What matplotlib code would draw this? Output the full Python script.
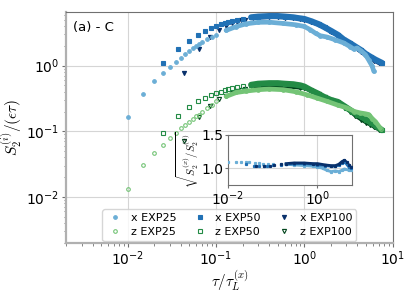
import numpy as np
import matplotlib
matplotlib.use("Agg")
import matplotlib.pyplot as plt

plt.rcParams["mathtext.fontset"] = "cm"

# x-component, EXP25 / EXP50 / EXP100
tau_x25 = [0.01, 0.015, 0.02, 0.025, 0.03, 0.035, 0.04, 0.045, 0.05, 0.055, 0.06,
           0.065, 0.07, 0.08, 0.09, 0.1, 0.13, 0.17, 0.22, 0.3, 0.4, 0.58, 0.8,
           1.0, 1.17, 1.35, 1.52, 1.81, 2.2, 2.8, 3.3, 3.63, 3.97, 4.4, 4.93,
           5.4, 5.88, 6.13]
s_x25 = [0.166, 0.371, 0.577, 0.76, 0.955, 1.14, 1.29, 1.48, 1.67, 1.83, 2.02,
         2.15, 2.3, 2.55, 2.78, 2.96, 3.45, 3.95, 4.35, 4.58, 4.6, 4.4, 4.2,
         3.96, 3.53, 3.1, 2.86, 2.73, 2.5, 2.22, 1.95, 1.79, 1.86, 1.68, 1.47,
         1.2, 0.98, 0.82]

tau_x50 = [0.025, 0.0375, 0.05, 0.0625, 0.075, 0.0875, 0.1, 0.1125, 0.125, 0.1375,
           0.15, 0.175, 0.2, 0.25, 0.3, 0.4, 0.5, 0.6, 0.75, 0.9, 1.0, 1.2, 1.45,
           1.7, 2.0, 2.4, 2.8, 3.3, 3.8, 4.4, 5.0, 5.7, 6.5, 7.6]
s_x50 = [1.10, 1.77, 2.38, 2.96, 3.37, 3.70, 4.06, 4.3, 4.45, 4.6,
         4.75, 5.0, 5.2, 5.45, 5.6, 5.7, 5.7, 5.6, 5.45, 5.25, 5.15, 4.75, 4.3,
         3.85, 3.4, 2.95, 2.5, 2.2, 1.95, 1.72, 1.5, 1.35, 1.22, 1.1]

tau_x100 = [0.043, 0.0645, 0.086, 0.1075, 0.129, 0.15, 0.172, 0.194, 0.215, 0.26,
            0.3, 0.4, 0.5, 0.6, 0.75, 0.9, 1.0, 1.2, 1.45, 1.7, 2.0, 2.4, 2.8,
            3.3, 3.8, 4.4, 5.0, 5.6, 6.2, 7.0]
s_x100 = [0.774, 1.79, 2.7, 3.55, 4.0, 4.4, 4.7, 4.9, 5.05, 5.25,
          5.35, 5.45, 5.45, 5.4, 5.3, 5.1, 5.0, 4.6, 4.15, 3.75, 3.3, 2.85, 2.45,
          2.1, 1.85, 1.6, 1.42, 1.28, 1.18, 1.08]

# z-component
tau_z25 = [0.01, 0.015, 0.02, 0.025, 0.03, 0.035, 0.04, 0.045, 0.05, 0.055, 0.06,
           0.065, 0.07, 0.08, 0.09, 0.1, 0.13, 0.17, 0.22, 0.3, 0.4, 0.58, 0.8,
           1.07, 1.4, 1.81, 2.4, 3.06, 3.7, 4.33, 4.9, 5.37, 5.9, 6.4, 7.3]
s_z25 = [0.0134, 0.0304, 0.0469, 0.0628, 0.0802, 0.0946, 0.111, 0.126, 0.1405, 0.1545, 0.169,
         0.18, 0.195, 0.225, 0.255, 0.285, 0.34, 0.39, 0.41, 0.43, 0.44, 0.43, 0.4,
         0.36, 0.32, 0.286, 0.25, 0.227, 0.2, 0.19, 0.185, 0.18, 0.155, 0.14, 0.11]

tau_z50 = [0.025, 0.0375, 0.05, 0.0625, 0.075, 0.0875, 0.1, 0.1125, 0.125, 0.1375,
           0.15, 0.175, 0.2, 0.25, 0.3, 0.4, 0.5, 0.6, 0.75, 0.9, 1.0, 1.2, 1.4,
           1.7, 2.0, 2.4, 3.0, 3.5, 4.0, 4.5, 5.0, 5.7, 6.5, 7.6]
s_z50 = [0.0946, 0.169, 0.232, 0.293, 0.32, 0.353, 0.38, 0.40, 0.42, 0.44,
         0.455, 0.47, 0.49, 0.51, 0.53, 0.54, 0.54, 0.53, 0.52, 0.5, 0.48, 0.42, 0.38,
         0.33, 0.3, 0.28, 0.23, 0.2, 0.18, 0.165, 0.15, 0.135, 0.12, 0.104]

tau_z100 = [0.043, 0.0645, 0.086, 0.1075, 0.129, 0.15, 0.172, 0.194, 0.215, 0.26,
            0.3, 0.4, 0.5, 0.6, 0.75, 0.9, 1.0, 1.2, 1.45, 1.7, 2.0, 2.4, 2.8,
            3.3, 3.8, 4.4, 5.0, 5.6, 6.2, 7.0]
s_z100 = [0.0705, 0.163, 0.24, 0.31, 0.35, 0.38, 0.41, 0.43, 0.44, 0.46,
          0.47, 0.48, 0.48, 0.475, 0.47, 0.455, 0.45, 0.41, 0.37, 0.33, 0.3, 0.265, 0.235,
          0.2, 0.17, 0.15, 0.135, 0.125, 0.115, 0.105]

# inset: sqrt(S2x / S2z)
tau_r25 = [0.01, 0.015, 0.02, 0.025, 0.03, 0.04, 0.05, 0.06, 0.08, 0.1, 0.15, 0.2,
           0.3, 0.5, 0.8, 1.0, 1.3, 1.6, 2.0, 2.5, 3.0, 3.5, 4.0, 5.0, 5.6]
r25 = [1.10, 1.10, 1.10, 1.09, 1.09, 1.08, 1.08, 1.07, 1.07, 1.06, 1.06, 1.06,
       1.05, 1.04, 1.03, 1.02, 1.0, 0.97, 0.95, 0.96, 0.95, 0.97, 0.99, 0.97, 0.98]
tau_r50 = [0.025, 0.0375, 0.05, 0.0625, 0.075, 0.1, 0.15, 0.2, 0.3, 0.5, 0.8, 1.0,
           1.5, 2.0, 2.5, 3.0, 3.5, 4.0, 4.5, 5.0, 5.5]
r50 = [1.07, 1.03, 1.04, 1.03, 1.04, 1.05, 1.05, 1.06, 1.07, 1.07, 1.06, 1.05,
       1.04, 1.03, 1.03, 1.05, 1.08, 1.10, 1.06, 1.02, 1.0]
tau_r100 = [0.043, 0.0645, 0.086, 0.1075, 0.15, 0.2, 0.3, 0.5, 0.8, 1.0, 1.5, 2.0,
            2.5, 3.0, 3.5, 4.0, 4.5, 5.0, 5.5]
r100 = [1.03, 1.03, 1.04, 1.05, 1.06, 1.07, 1.08, 1.08, 1.07, 1.07, 1.05, 1.04,
        1.04, 1.06, 1.10, 1.12, 1.09, 1.05, 1.02]

c_x = ["#6baed6", "#2171b5", "#08306b"]
c_z = ["#74c476", "#238b45", "#00441b"]


def draw(ax, t, s, color, marker, filled, ms, label, tcut, lw, z):
    t = np.array(t)
    s = np.array(s)
    m = t >= tcut
    ax.plot(t[m], s[m], color=color, lw=lw, solid_capstyle="round", zorder=z)
    ax.plot(t, s, ls="none", marker=marker, ms=ms, color=color,
            mfc=color if filled else "none", mew=0.8, label=label, zorder=z + 0.1)


fig = plt.figure(figsize=(4.15, 2.94), dpi=100)
ax = fig.add_axes([0.159, 0.1745, 0.787, 0.785])

draw(ax, tau_x25, s_x25, c_x[0], "o", True, 2.6, "x EXP25", 0.12, 3.4, 3)
draw(ax, tau_z25, s_z25, c_z[0], "o", False, 2.6, "z EXP25", 0.12, 3.4, 3)
draw(ax, tau_x50, s_x50, c_x[1], "s", True, 3.2, "x EXP50", 0.22, 4.4, 2.5)
draw(ax, tau_z50, s_z50, c_z[1], "s", False, 3.2, "z EXP50", 0.22, 4.4, 2.5)
draw(ax, tau_x100, s_x100, c_x[2], "v", True, 3.0, "x EXP100", 0.25, 2.4, 2)
draw(ax, tau_z100, s_z100, c_z[2], "v", False, 3.0, "z EXP100", 0.25, 2.4, 2)

ax.set_xscale("log")
ax.set_yscale("log")
ax.set_xlim(2e-3, 10)
ax.set_ylim(2e-3, 6.6)
ax.grid(True, which="major", color="#d5d5d5", lw=0.8)
ax.set_axisbelow(True)
for side in ["left", "bottom"]:
    ax.spines[side].set_color("#b0b0b0")
    ax.spines[side].set_linewidth(1.6)
for side in ["top", "right"]:
    ax.spines[side].set_color("#707070")
    ax.spines[side].set_linewidth(0.8)
ax.tick_params(which="both", colors="#707070", labelcolor="black", labelsize=10)
ax.tick_params(which="major", length=3, pad=2)
ax.tick_params(which="minor", length=1.8)
ax.set_xlabel(r"$\tau/\tau_L^{(x)}$", fontsize=11, labelpad=0)
ax.set_ylabel(r"$S_2^{(i)}/(\epsilon\tau)$", fontsize=11, labelpad=1)
ax.text(0.02, 0.96, "(a) - C", transform=ax.transAxes, fontsize=9.5, va="top")

leg = ax.legend(loc="lower center", bbox_to_anchor=(0.5, 0.0), ncol=3,
                fontsize=8, handletextpad=0.6, columnspacing=1.3,
                borderaxespad=0.15, handlelength=1.6, labelspacing=0.35,
                borderpad=0.35)
leg.get_frame().set_edgecolor("#cccccc")
leg.set_zorder(5)

# inset
ins = fig.add_axes([0.549, 0.371, 0.300, 0.170])
for t, r, c in [(tau_r25, r25, c_x[0]), (tau_r50, r50, c_x[1]), (tau_r100, r100, c_x[2])]:
    t = np.array(t)
    r = np.array(r)
    m = t >= 0.2
    ins.plot(t[m], r[m], color=c, lw=2.0, zorder=2)
    ins.plot(t, r, ls="none", marker="s", ms=1.3, color=c, zorder=3)
ins.set_xscale("log")
ins.set_xlim(1e-2, 6)
ins.set_ylim(0.75, 1.5)
ins.set_yticks([1.0, 1.5])
ins.set_xticks([1e-2, 1e0])
ins.minorticks_off()
ins.grid(True, color="#d5d5d5", lw=0.8)
for side in ins.spines:
    ins.spines[side].set_color("#707070")
    ins.spines[side].set_linewidth(0.8)
ins.tick_params(colors="#707070", labelcolor="black", labelsize=10, length=2, pad=1)
ins.set_ylabel(r"$\sqrt{S_2^{(x)}/S_2^{(z)}}$", fontsize=7.5, labelpad=0)

fig.savefig("out.png", dpi=100)
